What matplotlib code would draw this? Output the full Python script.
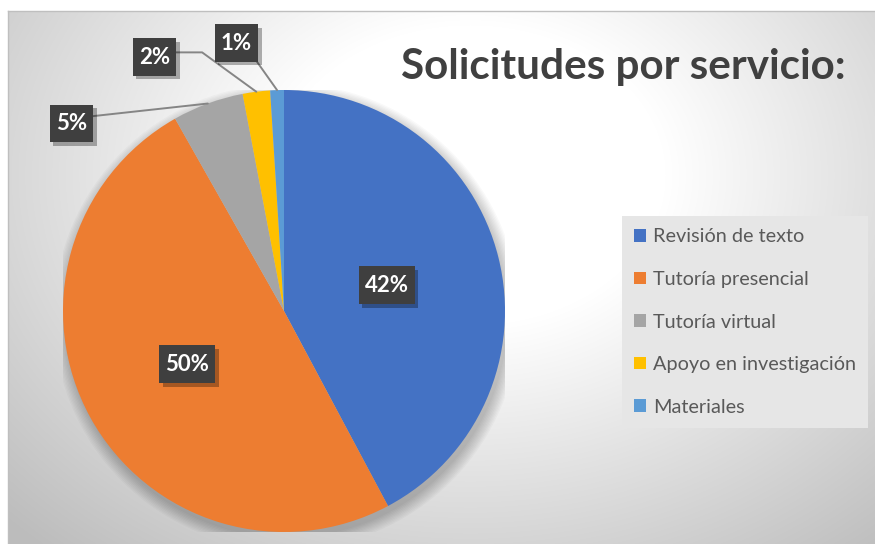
import numpy as np
import matplotlib
matplotlib.use("Agg")
import matplotlib.pyplot as plt
from matplotlib.patches import Patch, Circle
from matplotlib.path import Path
from matplotlib import patheffects as pe

# ---- data ----
categories = ["Revisión de texto", "Tutoría presencial", "Tutoría virtual",
              "Apoyo en investigación", "Materiales"]
values = [42.2, 49.6, 5.2, 2.0, 1.0]
colors = ["#4472C4", "#ED7D31", "#A5A5A5", "#FFC000", "#5B9BD5"]
title = "Solicitudes por servicio:"

plt.rcParams['font.family'] = ['Lato', 'DejaVu Sans']

W, H = 875, 544
fig = plt.figure(figsize=(W / 100, H / 100), dpi=100)
fig.patch.set_facecolor("white")

# ---- background gradient (chart area) ----
bx0, by0 = 8, 11
bg = fig.add_axes([bx0 / W, 0, (W - bx0) / W, (H - by0) / H])
yy, xx = np.mgrid[by0:H, bx0:W]
d = np.sqrt((xx - 470.0) ** 2 + (1.3 * (yy - 175.0)) ** 2)
val = 1 - 0.00058 * np.clip(d - 195, 0, None)
val = np.clip(val, 0.74, 1.0)
bg.imshow(np.dstack([val, val, val]), aspect='auto', interpolation='bilinear',
          extent=[0, 1, 0, 1])
bg.set_xlim(0, 1); bg.set_ylim(0, 1)
bg.set_xticks([]); bg.set_yticks([])
for s in bg.spines.values():
    s.set_color("#bfbfbf"); s.set_linewidth(1.0)
bg.spines['right'].set_visible(False)
bg.spines['bottom'].set_visible(False)

# ---- pie ----
cx, cy, R = 284, 311, 221
ax = fig.add_axes([(cx - R) / W, (H - cy - R) / H, 2 * R / W, 2 * R / H])

# soft shadow
for i in range(10):
    ax.add_patch(Circle((0.012, -0.025), 1.0 + i * 0.006, facecolor='black',
                        edgecolor='none', alpha=0.022, zorder=0))

wedges, _ = ax.pie(values, colors=colors, startangle=90, counterclock=False,
                   radius=1.0, wedgeprops=dict(linewidth=0))
ax.set_xlim(-1, 1); ax.set_ylim(-1, 1)
ax.set_aspect('equal')
ax.axis('off')

total = sum(values)
cum = np.cumsum([0] + values[:-1])
mids = [(c + v / 2) / total * 2 * np.pi for c, v in zip(cum, values)]
labels = [f"{round(v / total * 100):d}%" for v in values]


def label_box(x0, y0, width, height, mutation_size):
    px = 0.27 * mutation_size
    py = 0.38 * mutation_size
    x0, y0 = x0 - px, y0 - py
    x1, y1 = x0 + width + 2 * px, y0 + height + 2 * py
    return Path([(x0, y0), (x1, y0), (x1, y1), (x0, y1), (x0, y0)],
                closed=True)


box = dict(boxstyle=label_box, facecolor="#3f3f3f", edgecolor="none",
           linewidth=0)
txt_kw = dict(color="white", fontsize=16, fontweight="bold",
              ha="center", va="center", zorder=5)


def add_shadow(t):
    t.get_bbox_patch().set_path_effects(
        [pe.SimplePatchShadow(offset=(2.5, -2.5), alpha=0.3, shadow_rgbFace='black'),
         pe.Normal()])


# inside labels
inner_r = [0.48, 0.50]
for i in range(2):
    a = mids[i]
    t = ax.text(inner_r[i] * np.sin(a), inner_r[i] * np.cos(a), labels[i],
                bbox=box, **txt_kw)
    add_shadow(t)

# outside labels with leader lines (label centre in pixels, relpos, connection)
outside = {
    2: ((71.5, 123.5), (1.0, 0.82), "arc3,rad=0"),
    3: ((154.5, 57), (1.0, 0.72), "angle,angleA=0,angleB=-36,rad=0"),
    4: ((236.5, 43), (0.97, 0.0), "arc3,rad=0"),
}
for i, ((px, py), rp, cs) in outside.items():
    a = mids[i]
    xy = (np.sin(a), np.cos(a))
    xt = ((px - cx) / R, (cy - py) / R)
    t = ax.annotate(labels[i], xy=xy, xytext=xt, textcoords='data',
                    bbox=box, annotation_clip=False,
                    arrowprops=dict(arrowstyle='-', color='#858585', lw=1.4,
                                    shrinkA=0, shrinkB=0, relpos=rp,
                                    connectionstyle=cs),
                    **txt_kw)
    add_shadow(t)

# ---- title ----
fig.text(401 / W, 1 - 79 / H, title, fontsize=30.4, fontweight='bold',
         color='#404040', ha='left', va='baseline')

# ---- legend ----
handles = [Patch(facecolor=c, edgecolor='none') for c in colors]
leg = fig.legend(handles, categories, loc='upper left',
                 bbox_to_anchor=(622 / W, 1 - 216 / H),
                 frameon=True, fancybox=False, facecolor='#e6e6e6',
                 edgecolor='none', framealpha=1.0, fontsize=14.3,
                 labelcolor='#595959', handlelength=0.6, handleheight=0.6,
                 handletextpad=0.35, labelspacing=1.29, borderpad=0.62,
                 borderaxespad=0)

fig.savefig("out.png", dpi=100)
